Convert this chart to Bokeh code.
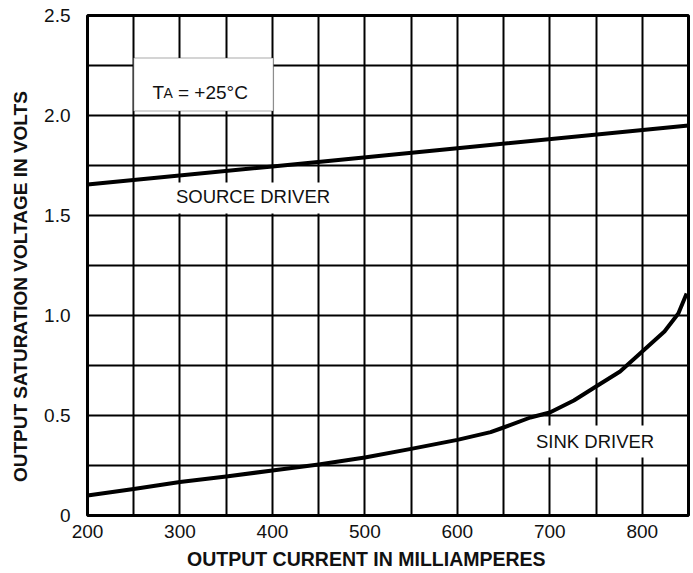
from bokeh.plotting import figure
from bokeh.models import Range1d, FixedTicker, BoxAnnotation, Label
from bokeh.embed import file_html
from bokeh.resources import INLINE

# ---- data ----
x_ticks = [200, 300, 400, 500, 600, 700, 800]
x_grid = [200, 250, 300, 350, 400, 450, 500, 550, 600, 650, 700, 750, 800, 850]
y_ticks = [0, 0.5, 1.0, 1.5, 2.0, 2.5]
y_tick_labels = ["0", "0.5", "1.0", "1.5", "2.0", "2.5"]
y_grid = [0, 0.25, 0.5, 0.75, 1.0, 1.25, 1.5, 1.75, 2.0, 2.25, 2.5]

source_current = [200, 400, 600, 850]
source_voltage = [1.655, 1.745, 1.836, 1.95]

sink_current = [200, 250, 300, 350, 400, 450, 500, 550, 600, 636, 650, 679,
                700, 726, 750, 776, 800, 824, 839, 848]
sink_voltage = [0.10, 0.133, 0.167, 0.195, 0.225, 0.255, 0.29, 0.333, 0.378,
                0.417, 0.44, 0.49, 0.515, 0.575, 0.645, 0.72, 0.82, 0.92,
                1.01, 1.11]

x_title = "OUTPUT CURRENT IN MILLIAMPERES"
y_title = "OUTPUT SATURATION VOLTAGE IN VOLTS"

FONT = "Liberation Sans"
PAD = "\u00a0" * 8   # trailing no-break spaces: the reference titles sit off-centre

p = figure(width=693, height=573, x_range=Range1d(200, 850), y_range=Range1d(0, 2.5),
           output_backend="svg", toolbar_location=None,
           min_border_left=87, min_border_right=5, min_border_top=15, min_border_bottom=58)

p.background_fill_color = "white"
p.border_fill_color = "white"
p.outline_line_color = "black"
p.outline_line_width = 3

# grid
p.xgrid.ticker = FixedTicker(ticks=x_grid)
p.ygrid.ticker = FixedTicker(ticks=y_grid)
for g in (p.xgrid, p.ygrid):
    g.grid_line_color = "black"
    g.grid_line_width = 2
    g.grid_line_alpha = 1.0

# axes
p.xaxis.ticker = FixedTicker(ticks=x_ticks)
p.yaxis.ticker = FixedTicker(ticks=y_ticks)
p.yaxis.major_label_overrides = {t: l for t, l in zip(y_ticks, y_tick_labels)}
for ax in (p.xaxis, p.yaxis):
    ax.axis_line_color = None
    ax.major_tick_line_color = None
    ax.minor_tick_line_color = None
    ax.major_label_text_font = FONT
    ax.major_label_text_font_size = "19px"
    ax.major_label_text_color = "#111111"
    ax.axis_label_text_font = FONT
    ax.axis_label_text_font_style = "bold"
    ax.axis_label_text_color = "#111111"
p.xaxis.major_label_standoff = 3
p.yaxis.major_label_standoff = 11
p.xaxis.axis_label = x_title + PAD
p.yaxis.axis_label = y_title + PAD
p.xaxis.axis_label_text_font_size = "19.5px"
p.yaxis.axis_label_text_font_size = "19px"
p.xaxis.axis_label_standoff = 7
p.yaxis.axis_label_standoff = 10

# curves
p.line(source_current, source_voltage, line_color="black", line_width=4)
p.line(sink_current, sink_voltage, line_color="black", line_width=4,
       line_join="round")

# label backgrounds
p.add_layout(BoxAnnotation(left=280, right=478, bottom=1.51, top=1.665,
                           fill_color="white", fill_alpha=1.0, line_color=None))
p.add_layout(BoxAnnotation(left=675, right=826, bottom=0.29, top=0.45,
                           fill_color="white", fill_alpha=1.0, line_color=None))
p.add_layout(BoxAnnotation(left=250, right=401, bottom=2.022, top=2.287,
                           fill_color="white", fill_alpha=1.0,
                           line_color="#444444", line_width=1.5))

def lab(x, y, text, size, align="center", baseline="middle", xoff=0):
    p.add_layout(Label(x=x, y=y, text=text, text_font=FONT, text_font_size=size,
                       text_align=align, text_baseline=baseline, x_offset=xoff,
                       text_color="#111111"))

lab(379, 1.595, "SOURCE DRIVER", "18.5px")
lab(749, 0.37, "SINK DRIVER", "18.5px")
lab(270.3, 2.115, "T", "19px", align="left", baseline="alphabetic")
lab(270.3, 2.115, "A", "14px", align="left", baseline="alphabetic", xoff=11.0)
lab(270.3, 2.115, "= +25°C", "19px", align="left", baseline="alphabetic", xoff=25.5)

open("out.html", "w").write(file_html(p, INLINE))
